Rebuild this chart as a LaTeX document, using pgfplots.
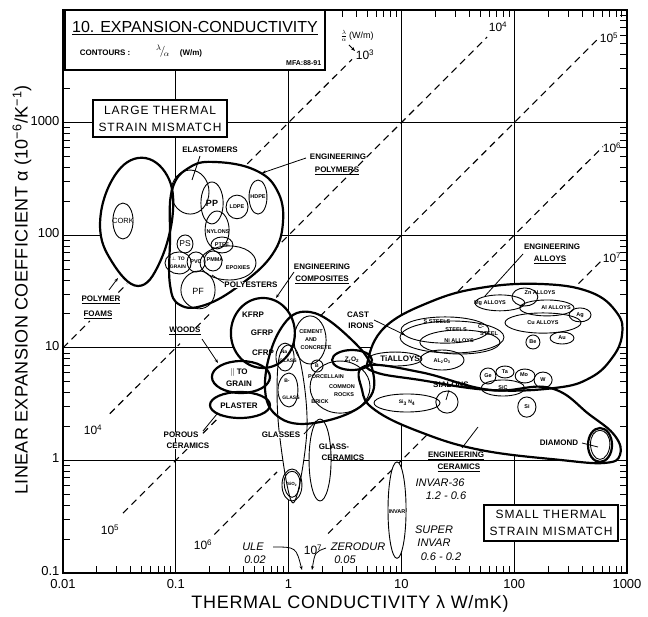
\documentclass[border=0pt]{standalone}
\usepackage{pgfplots}
\pgfplotsset{compat=1.18}
\usepackage{fontspec}
\setmainfont{Liberation Sans}
\usetikzlibrary{arrows.meta}
\newcommand\fs[1]{\fontsize{#1}{#1}\selectfont}

% envelopes (thick)
\newcommand\envshapes[1]{%
\addplot[#1] coordinates {(0.0213,123) (0.0272,309) (0.0463,485) (0.0802,364) (0.0945,167) (0.0724,57.9) (0.0463,35.4) (0.0272,57.9)};
\addplot[#1] coordinates {(0.0889,90.7) (0.0926,252) (0.134,403) (0.232,446) (0.504,379) (0.789,252) (0.892,131) (0.713,66.8) (0.371,36.1) (0.182,24) (0.109,24) (0.0889,36.1)};
\addplot[#1, tension=1] coordinates {(0.308,13.5) (0.592,27.7) (1.137,13.5) (0.592,6.62)};
\addplot[#1, tension=1] coordinates {(0.209,5.51) (0.379,7.63) (0.684,5.51) (0.379,3.97)};
\addplot[#1, tension=1] coordinates {(0.201,3.1) (0.371,4.05) (0.684,3.1) (0.371,2.38)};
\addplot[#1] coordinates {(0.617,4.68) (0.839,14.4) (1.55,20.8) (3.65,11.7) (5.6,6.09) (4.76,3.24) (1.9,2.19) (0.839,2.38)};
\addplot[#1] coordinates {(5.06,7.79) (7.16,15.3) (17.9,25.5) (49.8,34) (169,36.9) (470,31.3) (816,20.4) (903,13) (737,8.12) (470,5.4) (230,4.4) (61,4.22) (14.6,5.18) (5.84,6.09)};
\addplot[#1] coordinates {(4.76,6.89) (14.6,6.09) (61,4.22) (208,4.4) (470,2.53) (783,1.65) (867,1.12) (638,0.95) (255,1.01) (49.8,1.24) (14.6,1.79) (5.84,2.8) (4.48,4.22)};
\addplot[#1, tension=1] coordinates {(2.43,7.79) (3.65,9.56) (5.49,7.79) (3.65,6.35)};
\addplot[#1, tension=1] coordinates {(451,1.37) (576,1.94) (737,1.37) (576,0.969)};
}
% bubbles (thin)
\newcommand\bubshapes[1]{%
\addplot[#1] coordinates {(0.0277,134) (0.034,193) (0.0418,134) (0.034,92.5)};
\addplot[#1] coordinates {(0.0908,242) (0.134,379) (0.197,242) (0.134,154)};
\addplot[#1] coordinates {(0.167,193) (0.209,297) (0.263,193) (0.209,126)};
\addplot[#1] coordinates {(0.279,178) (0.349,227) (0.437,178) (0.349,140)};
\addplot[#1] coordinates {(0.446,218) (0.536,309) (0.643,218) (0.536,154)};
\addplot[#1] coordinates {(0.182,111) (0.232,164) (0.297,111) (0.232,75.6)};
\addplot[#1] coordinates {(0.1026,83.6) (0.121,100.5) (0.142,83.6) (0.121,69.6)};
\addplot[#1] coordinates {(0.205,81.9) (0.257,96.4) (0.321,81.9) (0.257,69.6)};
\addplot[#1] coordinates {(0.126,57.9) (0.151,71) (0.182,57.9) (0.151,47.1)};
\addplot[#1] coordinates {(0.178,59.1) (0.214,72.5) (0.257,59.1) (0.214,48.1)};
\addplot[#1] coordinates {(0.164,56.7) (0.297,80.3) (0.514,56.7) (0.297,40)};
\addplot[#1] coordinates {(0.0802,56.7) (0.107,71) (0.137,56.7) (0.107,45.3)};
\addplot[#1] coordinates {(0.111,32.6) (0.161,48.1) (0.223,32.6) (0.161,22.2)};
\addplot[#1] coordinates {(1.118,11.7) (1.55,19.2) (2.15,11.7) (1.55,7.18)};
\addplot[#1] coordinates {(0.773,8.28) (0.93,11) (1.118,8.28) (0.93,6.22)};
\addplot[#1] coordinates {(0.805,4.22) (1.008,5.97) (1.209,4.22) (1.008,2.98)};
\addplot[#1, tension=0.6] coordinates {(0.969,10.56) (1.26,7.79) (1.454,1.86) (1.095,0.419) (0.822,1.86) (0.805,7.03)};
\addplot[#1] coordinates {(0.874,0.605) (1.073,0.839) (1.313,0.605) (1.073,0.436)};
\addplot[#1] coordinates {(0.913,0.63) (1.073,0.8) (1.26,0.63) (1.073,0.47)};
\addplot[#1] coordinates {(1.518,1.01) (1.9,2.33) (2.38,1.01) (1.9,0.436)};
\addplot[#1] coordinates {(7.61,0.363) (9.14,0.969) (11,0.363) (9.14,0.135)};
\addplot[#1] coordinates {(1.583,6.89) (1.789,7.79) (2.02,6.89) (1.789,6.09)};
\addplot[#1] coordinates {(1.55,4.49) (2.86,7.63) (5.27,4.49) (2.86,2.63)};
\addplot[#1] coordinates {(9.72,12.4) (28.1,17.3) (81.2,12.4) (28.1,8.99)};
\addplot[#1] coordinates {(9.92,14.4) (24.4,18.8) (59.7,14.4) (24.4,11)};
\addplot[#1] coordinates {(14.6,11.2) (33.1,14.4) (74.8,11.2) (33.1,8.81)};
\addplot[#1] coordinates {(45,25) (74.8,29.5) (124,25) (74.8,21.3)};
\addplot[#1] coordinates {(95.7,28.3) (124,34) (162,28.3) (124,23.5)};
\addplot[#1] coordinates {(112,22.6) (195,26.6) (339,22.6) (195,19.2)};
\addplot[#1] coordinates {(307,19.6) (383,22.6) (480,19.6) (383,17)};
\addplot[#1] coordinates {(82.9,16.7) (180,20.4) (391,16.7) (180,13.5)};
\addplot[#1] coordinates {(208,12.2) (266,13.8) (339,12.2) (266,10.8)};
\addplot[#1] coordinates {(127,11.2) (147,13) (169,11.2) (147,9.76)};
\addplot[#1] coordinates {(5.06,7.95) (8.79,9.17) (15.2,7.95) (8.79,6.89)};
\addplot[#1] coordinates {(14.6,7.79) (22.9,9.56) (35.9,7.79) (22.9,6.35)};
\addplot[#1] coordinates {(49.8,5.62) (58.6,6.62) (68.9,5.62) (58.6,4.77)};
\addplot[#1] coordinates {(68.9,6.09) (82.9,6.89) (99.6,6.09) (82.9,5.4)};
\addplot[#1] coordinates {(102,5.62) (124,6.48) (153,5.62) (124,4.87)};
\addplot[#1] coordinates {(150,5.18) (180,6.09) (217,5.18) (180,4.4)};
\addplot[#1] coordinates {(50.8,4.4) (79.5,5.18) (124,4.4) (79.5,3.73)};
\addplot[#1] coordinates {(107.5,2.98) (129,3.66) (156,2.98) (129,2.42)};
\addplot[#1] coordinates {(20.2,3.3) (25.4,4.13) (31.8,3.3) (25.4,2.63)};
\addplot[#1] coordinates {(5.72,3.24) (11.2,3.89) (22,3.24) (11.2,2.69)};
\addplot[#1] coordinates {(475,1.4) (576,1.85) (705,1.4) (576,1.02)};
}

\begin{document}
\begin{tikzpicture}[x=1pt,y=1pt]
\useasboundingbox (-63,-43) rectangle (585,573);
\begin{axis}[
  at={(0pt,0pt)}, anchor=south west,
  scale only axis, width=564pt, height=563pt,
  xmode=log, ymode=log,
  xmin=0.01, xmax=1000, ymin=0.1, ymax=10000,
  xtick={0.01,0.1,1,10,100,1000}, xticklabels={0.01,0.1,1,10,100,1000},
  ytick={0.1,1,10,100,1000}, yticklabels={0.1,1,10,100,1000},
  minor xtick={0.02,0.03,0.04,0.05,0.06,0.07,0.08,0.09,0.2,0.3,0.4,0.5,0.6,0.7,0.8,0.9,2,3,4,5,6,7,8,9,20,30,40,50,60,70,80,90,200,300,400,500,600,700,800,900},
  minor ytick={0.2,0.3,0.4,0.5,0.6,0.7,0.8,0.9,2,3,4,5,6,7,8,9,20,30,40,50,60,70,80,90,200,300,400,500,600,700,800,900,2000,3000,4000,5000,6000,7000,8000,9000},
  tick align=inside, major tick length=0pt, minor tick length=7pt,
  xmajorgrids, ymajorgrids, major grid style={black, line width=0.9pt},
  axis line style={line width=1.5pt},
  every tick/.style={black, line width=0.9pt},
  tick label style={font=\fs{13}},
  xticklabel style={yshift=-3pt},
  yticklabel style={yshift=2pt},
  clip=true,
]
% contours lambda/alpha
\pgfplotsset{every axis plot/.append style={mark=none}}
\addplot[black, line width=1.1pt, dash pattern=on 7pt off 5pt] coordinates {(0.01,10) (0.0173,17.3)};
\addplot[black, line width=1.1pt, dash pattern=on 7pt off 5pt] coordinates {(0.031,31) (0.037,37)};
\addplot[black, line width=1.1pt, dash pattern=on 7pt off 5pt] coordinates {(0.43,430) (3.65,3650)};
\addplot[black, line width=1.1pt, dash pattern=on 7pt off 5pt] coordinates {(0.026,2.6) (0.109,10.9)};
\addplot[black, line width=1.1pt, dash pattern=on 7pt off 5pt] coordinates {(0.15,15) (0.21,21)};
\addplot[black, line width=1.1pt, dash pattern=on 7pt off 5pt] coordinates {(0.73,73) (57.5,5750)};
\addplot[black, line width=1.1pt, dash pattern=on 7pt off 5pt] coordinates {(0.034,0.34) (0.126,1.26)};
\addplot[black, line width=1.1pt, dash pattern=on 7pt off 5pt] coordinates {(0.174,1.74) (0.247,2.47)};
\addplot[black, line width=1.1pt, dash pattern=on 7pt off 5pt] coordinates {(1.9,19) (542,5420)};
\addplot[black, line width=1.1pt, dash pattern=on 7pt off 5pt] coordinates {(0.22,0.22) (0.79,0.79)};
\addplot[black, line width=1.1pt, dash pattern=on 7pt off 5pt] coordinates {(31.8,31.8) (612,612)};
\addplot[black, line width=1.1pt, dash pattern=on 7pt off 5pt] coordinates {(2.24,0.224) (16.8,1.68)};
\addplot[black, line width=1.1pt, dash pattern=on 7pt off 5pt] coordinates {(312,31.2) (612,61.2)};
% fills then outlines
\envshapes{draw=none, fill=white, smooth cycle, tension=0.7}
\bubshapes{draw=none, fill=white, smooth cycle, tension=1}
\envshapes{draw=black, line width=2.2pt, smooth cycle, tension=0.7}
\bubshapes{draw=black, line width=0.9pt, smooth cycle, tension=1}
\end{axis}

\begin{scope}[shift={(-63,573)}, yscale=-1, every node/.style={inner sep=0.6pt}]
\tikzset{b/.style={font=\fs{#1}\bfseries}, lead/.style={line width=0.8pt}, arr/.style={line width=0.8pt,-{Stealth[length=4pt,width=3pt]}}}
% title box
\draw[line width=1.5pt, fill=white] (65,10) rectangle (325,70);
\node[font=\fs{16}] at (195,28) {\underline{10. EXPANSION-CONDUCTIVITY}};
\node[b=8, anchor=west] at (79,53) {CONTOURS :};
\node[font=\fs{11}] at (163,51) {$^{\lambda}\!/_{\!\alpha}$};
\node[b=8] at (191,53) {(W/m)};
\node[b=7, anchor=east] at (322,63) {MFA:88-91};
% mismatch boxes
\draw[line width=1.5pt, fill=white] (93,100) rectangle (227,137);
\node[font=\fontsize{12}{17}\selectfont\addfontfeature{LetterSpace=8}, align=center] at (160,118.5) {LARGE THERMAL\\STRAIN MISMATCH};
\draw[line width=1.5pt, fill=white] (484,505) rectangle (618,541);
\node[font=\fontsize{12}{17}\selectfont\addfontfeature{LetterSpace=8}, align=center] at (551,523) {SMALL THERMAL\\STRAIN MISMATCH};
% contour labels
\node[font=\fs{9}] at (357,36) {$\frac{\lambda}{\alpha}$\,(W/m)};
\draw[arr] (349,45) -- (355,51);
\node[font=\fs{12}] at (365,55) {10\textsuperscript{3}};
\node[font=\fs{12}] at (498,27) {10\textsuperscript{4}};
\node[font=\fs{12}] at (609,38) {10\textsuperscript{5}};
\node[font=\fs{12}] at (612,148) {10\textsuperscript{6}};
\node[font=\fs{12}] at (612,258) {10\textsuperscript{7}};
\node[font=\fs{12}] at (93,430) {10\textsuperscript{4}};
\node[font=\fs{12}] at (110,530) {10\textsuperscript{5}};
\node[font=\fs{12}] at (203,545) {10\textsuperscript{6}};
\node[font=\fs{12}] at (313,550) {10\textsuperscript{7}};
% polymers
\node[b=8] at (210,150) {ELASTOMERS};
\draw[lead] (200,156) -- (192,180);
\node[b=8] at (338,157) {ENGINEERING};
\node[b=8] at (337,171) {\underline{POLYMERS}};
\draw[arr] (306,158) -- (262,173);
\node[font=\fs{7.5}] at (123,221) {CORK};
\node[b=9] at (212,203) {PP};
\node[b=5.5] at (237,207) {LDPE};
\node[b=5.5] at (258,197) {HDPE};
\node[b=5.5] at (218,232) {NYLONS};
\node[font=\fs{8.5}] at (185,244) {PS};
\node[b=5.5] at (222,245) {PTFE};
\node[b=5.5] at (196,262) {PVC};
\node[b=5.5] at (215,260) {PMMA};
\node[b=5.5] at (238,268) {EPOXIES};
\node[b=5] at (178,259) {$\perp$ TO};
\node[b=5] at (178,267) {GRAIN};
\node[font=\fs{9}] at (198,291) {PF};
\node[b=8, fill=white] at (251,285) {POLYESTERS};
\draw[lead] (224,283) -- (212,275);
\node[b=8] at (101,300) {\underline{POLYMER}};
\node[b=8] at (98,315) {\underline{FOAMS}};
\draw[arr] (109,290) -- (118,278);
% composites etc
\node[b=8] at (322,267) {ENGINEERING};
\node[b=8] at (322,280) {\underline{COMPOSITES}};
\draw[arr] (294,272) -- (276,298);
\node[b=8] at (185,331) {\underline{WOODS}};
\draw[arr] (202,339) -- (218,363);
\node[b=8] at (253,315) {KFRP};
\node[b=8] at (262,333) {GFRP};
\node[b=8] at (263,353) {CFRP};
\node[b=8] at (239,373) {$\parallel$ TO};
\node[b=8] at (239,384) {GRAIN};
\node[b=8] at (239,406) {PLASTER};
\node[b=8, fill=white] at (181,435) {POROUS};
\node[b=8, fill=white] at (188,446) {CERAMICS};
\draw[lead] (203,431) -- (217,414);
\node[b=5.5] at (311,332) {CEMENT};
\node[b=5.5] at (311,340) {AND};
\node[b=5.5] at (316,348) {CONCRETE};
\node[b=5] at (284,352) {Na};
\node[b=5] at (288,361) {GLASS};
\node[b=5] at (287,381) {B-};
\node[b=5] at (291,398) {GLASS};
\node[b=5.5] at (326,377) {PORCELLAIN};
\node[b=5.5] at (342,387) {COMMON};
\node[b=5.5] at (344,395) {ROCKS};
\node[b=5.5] at (320,402) {BRICK};
\node[b=5] at (317,366) {B};
\node[b=6.5] at (352,360) {Z\textsubscript{r}O\textsubscript{2}};
\node[b=8, fill=white] at (281,435) {GLASSES};
\draw[lead] (304,434) -- (316,421);
\node[b=8] at (334,447) {GLASS-};
\node[b=8] at (343,458) {CERAMICS};
\node[b=4.5] at (292,484) {SiO\textsubscript{2}};
\node[b=5.5] at (397,512) {INVAR};
% metals
\node[b=8] at (358,315) {CAST};
\node[b=8] at (361,326) {IRONS};
\draw[arr] (374,320) -- (405,335);
\node[b=8] at (400,359) {TiALLOYS};
\node[b=5.5] at (442,361) {AL\textsubscript{2}O\textsubscript{3}};
\node[b=5.5] at (437,322) {S STEELS};
\node[b=5.5] at (456,330) {STEELS};
\node[b=5.5] at (481,327) {C-};
\node[b=5.5] at (489,334) {STEEL};
\node[b=5.5] at (459,341) {Ni ALLOYS};
\node[b=5.5] at (490,303) {Mg ALLOYS};
\node[b=5.5] at (540,293) {Zn ALLOYS};
\node[b=5.5] at (556,308) {Al ALLOYS};
\node[b=5.5] at (580,315) {Ag};
\node[b=5.5] at (543,323) {Cu ALLOYS};
\node[b=5.5] at (562,338) {Au};
\node[b=5.5] at (533,342) {Be};
\node[b=5.5] at (488,376) {Ge};
\node[b=5.5] at (505,372) {Ta};
\node[b=5.5] at (524,375) {Mo};
\node[b=5.5] at (543,380) {W};
\node[b=5.5] at (503,388) {SiC};
\node[b=5.5] at (527,407) {Si};
\node[b=8] at (451,385) {SIALONS};
\draw[lead] (449,390) -- (446,400);
\node[b=5] at (407,403) {Si\textsubscript{3} N\textsubscript{4}};
\node[b=8] at (559,443) {DIAMOND};
\draw[lead] (582,443) -- (598,447);
\node[b=8] at (552,247) {ENGINEERING};
\node[b=8] at (550,260) {\underline{ALLOYS}};
\draw[lead] (523,254) -- (485,296);
\node[b=8] at (456,456) {\underline{ENGINEERING}};
\node[b=8] at (459,468) {\underline{CERAMICS}};
\draw[lead] (462,448) -- (478,427);
% handwritten notes
\node[font=\fs{11}\itshape] at (440,483) {INVAR-36};
\node[font=\fs{11}\itshape] at (446,496) {1.2 - 0.6};
\node[font=\fs{11}\itshape] at (434,530) {SUPER};
\node[font=\fs{11}\itshape] at (434,543) {INVAR};
\node[font=\fs{11}\itshape] at (441,557) {0.6 - 0.2};
\node[font=\fs{11}\itshape] at (253,547) {ULE};
\node[font=\fs{11}\itshape] at (255,560) {0.02};
\node[font=\fs{11}\itshape] at (358,547) {ZERODUR};
\node[font=\fs{11}\itshape] at (345,560) {0.05};
\draw[arr] (273,547) .. controls (296,547) .. (302,570);
\draw[arr] (326,548) .. controls (315,552) .. (312,570);
% axis labels
\node[font=\fs{18}\addfontfeature{LetterSpace=4}] at (350,604) {THERMAL CONDUCTIVITY λ W/mK)};
\node[rotate=90, font=\fs{18}\addfontfeature{LetterSpace=2}] at (22,290) {LINEAR EXPANSION COEFFICIENT α (10\textsuperscript{−6}/K\textsuperscript{−1})};
\end{scope}
\end{tikzpicture}
\end{document}
